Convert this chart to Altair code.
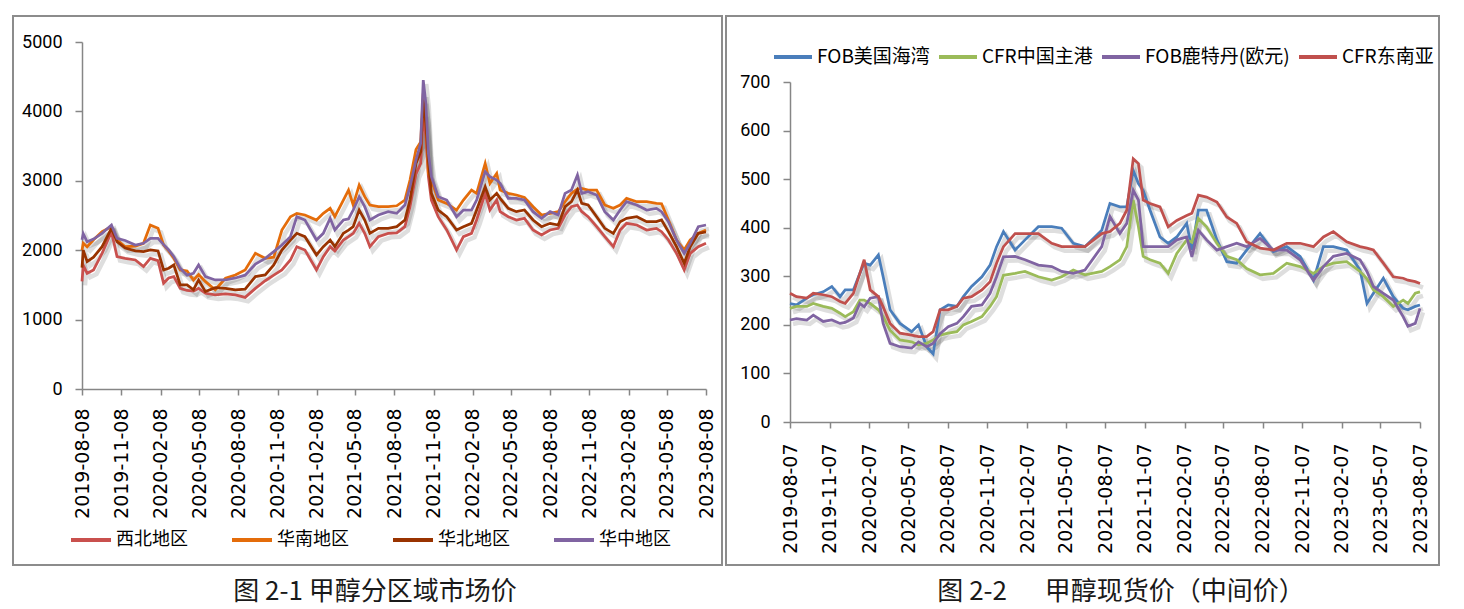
import altair as alt
import pandas as pd

# ---------------- Panel 1: 甲醇分区域市场价 ----------------
DATES_1 = ["2019-08-08","2019-08-11","2019-08-20","2019-09-04","2019-09-24","2019-10-16","2019-10-29","2019-11-17",
           "2019-12-11","2019-12-30","2020-01-15","2020-02-02","2020-02-15","2020-02-27","2020-03-10","2020-03-25",
           "2020-04-10","2020-04-25","2020-05-07","2020-05-23","2020-06-15","2020-07-09","2020-08-01","2020-08-24",
           "2020-09-17","2020-10-10","2020-10-30","2020-11-18","2020-12-08","2020-12-23","2021-01-11","2021-02-07",
           "2021-02-23","2021-03-11","2021-03-22","2021-04-11","2021-04-23","2021-05-04","2021-05-18","2021-05-31",
           "2021-06-12","2021-07-02","2021-07-25","2021-08-14","2021-09-02","2021-09-14","2021-09-28","2021-10-09",
           "2021-10-15","2021-10-21","2021-10-27","2021-11-03","2021-11-19","2021-12-09","2022-01-01","2022-01-17",
           "2022-02-05","2022-02-17","2022-03-09","2022-03-20","2022-04-05","2022-04-13","2022-05-02","2022-05-21",
           "2022-06-09","2022-06-29","2022-07-19","2022-08-08","2022-08-27","2022-09-12","2022-09-27","2022-10-11",
           "2022-10-21","2022-11-05","2022-11-25","2022-12-14","2023-01-03","2023-01-19","2023-02-03","2023-02-27",
           "2023-03-22","2023-04-14","2023-04-26","2023-05-12","2023-05-31","2023-06-18","2023-07-02","2023-07-21",
           "2023-08-08"]
XIBEI = [1550,1780,1667,1715,1955,2267,1907,1883,1859,1763,1883,1850,1523,1600,1619,1451,1420,1410,1450,1379,
         1355,1370,1355,1320,1450,1560,1640,1715,1859,2051,2003,1715,1907,2051,1990,2147,2195,2243,2387,2243,
         2051,2195,2243,2250,2339,2627,3100,3250,3976,3643,3059,2723,2483,2291,2003,2195,2243,2435,2819,2579,
         2723,2555,2483,2435,2459,2291,2219,2291,2315,2507,2627,2651,2555,2483,2339,2195,2051,2291,2387,2363,
         2291,2315,2267,2147,1955,1715,1955,2051,2099]
HUANAN = [2000,2100,2050,2150,2267,2340,2150,2050,2060,2099,2363,2315,2075,1990,1883,1715,1700,1571,1650,1547,
          1430,1595,1643,1715,1955,1883,1900,2291,2483,2531,2507,2435,2531,2603,2483,2723,2867,2650,2939,2771,
          2651,2627,2627,2640,2723,3011,3450,3560,4262,3881,3107,3011,2723,2675,2579,2723,2867,2819,3251,2963,
          3107,2867,2819,2795,2760,2627,2507,2530,2555,2699,2819,2880,2891,2867,2867,2651,2603,2651,2747,2699,
          2699,2675,2670,2435,2147,2003,2147,2243,2291]
HUABEI = [1750,2000,1835,1900,2051,2315,2122,2030,1990,1979,2003,1990,1715,1740,1787,1499,1499,1430,1571,1403,
          1460,1451,1427,1440,1619,1643,1787,2003,2147,2243,2195,1931,2051,2147,2051,2243,2290,2339,2579,2435,
          2243,2315,2315,2339,2435,2723,3250,3420,4167,3833,3299,2819,2579,2483,2291,2339,2387,2579,2915,2723,
          2819,2747,2603,2555,2579,2435,2339,2387,2363,2627,2699,2867,2675,2651,2483,2315,2243,2411,2459,2483,
          2411,2411,2435,2267,2051,1811,2051,2243,2262]
HUAZHONG = [2150,2238,2122,2160,2243,2363,2171,2140,2075,2099,2171,2171,2080,2003,1907,1739,1640,1667,1787,1619,
            1571,1571,1600,1640,1800,1883,1979,2075,2195,2483,2435,2147,2243,2459,2291,2435,2450,2579,2771,2627,
            2435,2507,2555,2531,2651,2915,3300,3539,4452,4119,3395,3059,2771,2723,2483,2579,2579,2723,3131,3059,
            3011,2963,2747,2747,2723,2555,2459,2555,2507,2819,2867,3083,2819,2843,2795,2555,2435,2579,2699,2651,
            2579,2603,2555,2411,2147,1955,2099,2339,2363]
SERIES_1 = ["西北地区", "华南地区", "华北地区", "华中地区"]
COLORS_1 = ["#C9504D", "#E46C0A", "#993300", "#8064A2"]
XTICKS_1 = ["2019-08-08","2019-11-08","2020-02-08","2020-05-08","2020-08-08","2020-11-08","2021-02-08",
            "2021-05-08","2021-08-08","2021-11-08","2022-02-08","2022-05-08","2022-08-08","2022-11-08",
            "2023-02-08","2023-05-08","2023-08-08"]
YTICKS_1 = [0, 1000, 2000, 3000, 4000, 5000]
CAPTION_1 = "图 2-1\u00a0甲醇分区域市场价"

# ---------------- Panel 2: 甲醇现货价（中间价） ----------------
DATES_2 = ["2019-08-07","2019-08-22","2019-09-15","2019-09-30","2019-10-23","2019-11-12","2019-12-01","2019-12-13",
           "2020-01-01","2020-01-16","2020-01-26","2020-02-09","2020-02-28","2020-03-10","2020-03-26","2020-04-18",
           "2020-05-15","2020-05-31","2020-06-19","2020-07-04","2020-07-20","2020-08-08","2020-08-28","2020-09-12",
           "2020-10-01","2020-10-25","2020-11-13","2020-11-28","2020-12-14","2021-01-10","2021-02-02","2021-03-05",
           "2021-04-05","2021-04-28","2021-05-25","2021-06-21","2021-07-30","2021-08-18","2021-09-10","2021-09-26",
           "2021-10-11","2021-10-23","2021-11-03","2021-11-19","2021-12-12","2021-12-31","2022-01-20","2022-02-12",
           "2022-02-24","2022-03-11","2022-03-30","2022-04-23","2022-05-16","2022-06-08","2022-07-01","2022-08-01",
           "2022-09-01","2022-10-02","2022-11-02","2022-12-03","2022-12-26","2023-01-18","2023-02-18","2023-03-21",
           "2023-04-06","2023-04-21","2023-05-14","2023-06-06","2023-06-29","2023-07-10","2023-07-27","2023-08-07"]
FOB_US = [244,241,255,262,268,279,258,272,272,306,327,323,344,299,231,203,186,200,155,140,
          231,241,238,258,279,299,323,361,392,354,375,402,402,399,368,361,395,450,443,443,
          518,491,477,436,381,368,381,409,354,436,436,375,330,327,354,388,351,361,341,292,
          361,361,354,313,244,265,296,258,234,231,238,241]
CFR_CN = [234,238,238,244,238,234,224,217,227,251,251,244,231,217,189,169,165,159,162,169,
          179,183,186,200,207,217,238,258,302,306,310,299,292,299,313,303,310,320,334,361,
          457,402,341,334,327,306,347,375,370,419,402,368,341,334,316,303,306,327,320,306,
          320,327,330,310,295,272,258,238,251,244,265,268]
FOB_RTM = [210,213,210,220,207,210,203,205,214,244,237,255,258,203,162,155,152,165,155,162,
           182,196,203,217,238,241,265,299,340,341,334,323,320,310,306,313,361,423,388,409,
           477,457,361,361,361,361,375,381,340,395,375,354,361,368,361,378,354,354,334,292,
           320,341,347,334,310,279,265,251,217,197,203,234]
CFR_SEA = [265,258,255,265,262,258,248,244,265,306,334,272,258,237,203,183,179,176,176,186,
           231,231,238,255,258,272,289,327,361,388,388,388,368,361,361,361,388,392,409,436,
           542,532,457,450,443,402,415,425,430,467,463,453,422,409,371,358,354,368,368,361,
           381,392,371,361,358,354,327,299,296,292,289,285]
SERIES_2 = ["FOB美国海湾", "CFR中国主港", "FOB鹿特丹(欧元)", "CFR东南亚"]
COLORS_2 = ["#4A7EBB", "#9BBB59", "#8064A2", "#C0504D"]
XTICKS_2 = ["2019-08-07","2019-11-07","2020-02-07","2020-05-07","2020-08-07","2020-11-07","2021-02-07",
            "2021-05-07","2021-08-07","2021-11-07","2022-02-07","2022-05-07","2022-08-07","2022-11-07",
            "2023-02-07","2023-05-07","2023-08-07"]
YTICKS_2 = [0, 100, 200, 300, 400, 500, 600, 700]
CAPTION_2 = "图 2-2\u00a0\u00a0\u3000甲醇现货价（中间价）"

CJK = "Noto Sans CJK SC"


def ms(s):
    return int(pd.Timestamp(s, tz="UTC").timestamp() * 1000)


def long_df(dates, series, cols):
    rows = []
    for name, vals in zip(series, cols):
        assert len(vals) == len(dates), (name, len(vals), len(dates))
        for d, v in zip(dates, vals):
            rows.append({"date": d, "series": name, "value": v})
    return pd.DataFrame(rows)


def panel(df, series, colors, xticks, yticks, width, height, yrange, xpad, legend, border, caption, cap_xy):
    x = alt.X("date:T",
              scale=alt.Scale(type="utc", domain=[ms(xticks[0]), ms(xticks[-1])], nice=False),
              axis=alt.Axis(values=[ms(t) for t in xticks], format="%Y-%m-%d", labelPadding=xpad),
              title=None)
    y = alt.Y("value:Q",
              scale=alt.Scale(domain=[yticks[0], yticks[-1]], nice=False, zero=True, range=yrange),
              axis=alt.Axis(values=yticks, format="d"),
              title=None)
    shadow = alt.Chart(df).mark_line(color="#000000", opacity=0.13, strokeWidth=4.5,
                                     xOffset=3, yOffset=4).encode(x=x, y=y, detail="series:N")
    lines = alt.Chart(df).mark_line(strokeWidth=2.75).encode(
        x=x, y=y,
        color=alt.Color("series:N", sort=series,
                        scale=alt.Scale(domain=series, range=colors),
                        legend=legend))
    frame = alt.Chart(pd.DataFrame({"k": [0]})).mark_rect(
        fillOpacity=0, stroke="#8C8C8C", strokeWidth=2).encode(
        x=alt.value(border[0]), x2=alt.value(border[1]),
        y=alt.value(border[2]), y2=alt.value(border[3]))
    cap = alt.Chart(pd.DataFrame({"t": [caption]})).mark_text(
        font=CJK, fontSize=26, color="#1a1a1a", align="center", baseline="middle").encode(
        text="t:N", x=alt.value(cap_xy[0]), y=alt.value(cap_xy[1]))
    return alt.layer(frame, shadow, lines, cap).properties(width=width, height=height)


df1 = long_df(DATES_1, SERIES_1, [XIBEI, HUANAN, HUABEI, HUAZHONG])
df2 = long_df(DATES_2, SERIES_2, [FOB_US, CFR_CN, FOB_RTM, CFR_SEA])

legend1 = alt.Legend(orient="none", legendX=-13, legendY=476, direction="horizontal", columns=4,
                     title=None, symbolType="stroke", symbolSize=1600, symbolStrokeWidth=4,
                     labelFont=CJK, labelFontSize=18, labelColor="#000000", labelOffset=3,
                     columnPadding=36, padding=0)
legend2 = alt.Legend(orient="none", legendX=-18, legendY=-6, direction="horizontal", columns=4,
                     title=None, symbolType="stroke", symbolSize=1444, symbolStrokeWidth=4,
                     labelFont=CJK, labelFontSize=19, labelColor="#000000", labelOffset=3,
                     columnPadding=1, padding=0)

# both panels share the same group origin (page y = 42); panel 2's value axis starts 40px lower
p1 = panel(df1, SERIES_1, COLORS_1, XTICKS_1, YTICKS_1, 624, 347, [347, 0], 13, legend1,
           (-69, 640, -26, 523), CAPTION_1, (293, 550))
p2 = panel(df2, SERIES_2, COLORS_2, XTICKS_2, YTICKS_2, 630, 380, [380, 40], 15, legend2,
           (-64, 649, -26, 523), CAPTION_2, (331, 550))

chart = alt.hconcat(p1, p2, spacing=2).resolve_scale(color="independent").properties(
    padding={"left": 4, "top": 7, "right": 5, "bottom": 5}
).configure_view(strokeWidth=0).configure_axisY(
    labelFont="Roboto", labelFontSize=18, labelColor="#000000", labelPadding=13,
    domainColor="#868686", domainWidth=1.5, tickColor="#868686", tickWidth=1.5, tickSize=7,
    grid=False, labelFlush=False
).configure_axisX(
    labelFont="DejaVu Sans", labelFontSize=19, labelColor="#000000",
    labelAngle=270, labelOverlap=False, labelFlush=False,
    domainColor="#868686", domainWidth=1.5, tickColor="#868686", tickWidth=1.5, tickSize=6,
    grid=False
)

chart.save("out.html", embed_options={"renderer": "svg", "actions": False})
